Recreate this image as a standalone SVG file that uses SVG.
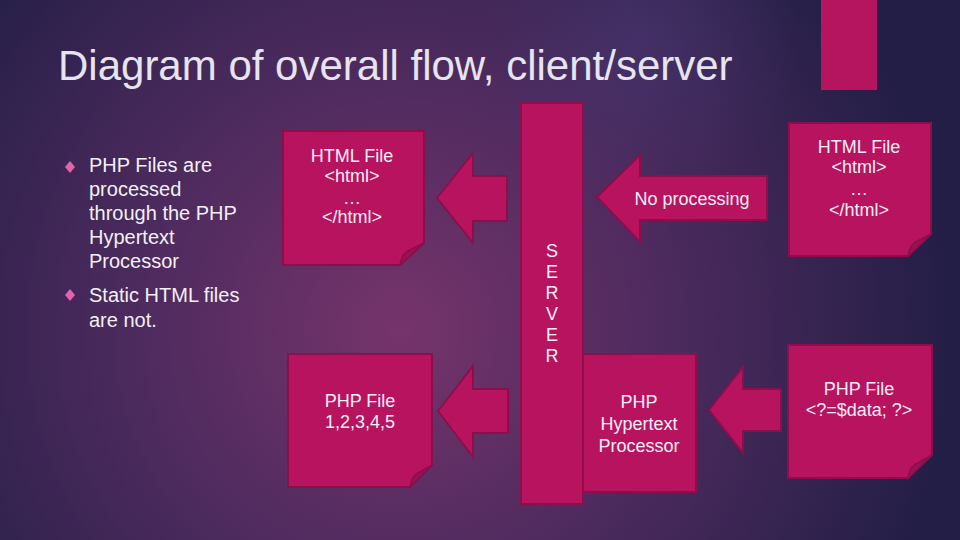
<svg xmlns="http://www.w3.org/2000/svg" width="960" height="540" viewBox="0 0 960 540">
  <defs>
    <radialGradient id="bg" cx="400" cy="330" r="560" gradientUnits="userSpaceOnUse">
      <stop offset="0" stop-color="#76346b"/>
      <stop offset="0.45" stop-color="#4f2b5f"/>
      <stop offset="1" stop-color="#221e45"/>
    </radialGradient>
    <radialGradient id="glow" cx="640" cy="40" r="160" gradientUnits="userSpaceOnUse">
      <stop offset="0" stop-color="#4a3a78" stop-opacity="0.5"/>
      <stop offset="1" stop-color="#4a3a78" stop-opacity="0"/>
    </radialGradient>
  </defs>
  <style>
    .shape { fill: #b8135f; stroke: #8c0e4b; stroke-width: 2; stroke-linejoin: miter; }
    .fold { fill: #9a1253; stroke: #8c0e4b; stroke-width: 1.5; }
    .lbl { font-family: "Liberation Sans", Arial, sans-serif; font-size: 18px; fill: #f6eef6; text-anchor: middle; }
    .bul { font-family: "Liberation Sans", Arial, sans-serif; font-size: 20px; fill: #f2f0f4; }
    .title { font-family: "Liberation Sans", Arial, sans-serif; font-size: 42px; fill: #e6e4ec; }
    .dia { fill: #e462ac; }
  </style>
  <rect x="0" y="0" width="960" height="540" fill="url(#bg)"/>
  <rect x="0" y="0" width="960" height="540" fill="url(#glow)"/>
  <rect x="821" y="0" width="56" height="90" fill="#b5145f"/>

  <text class="title" x="58" y="80">Diagram of overall flow, client/server</text>

  <g id="bullets">
    <path class="dia" d="M70,161 L75,167 L70,173 L65,167 Z"/>
    <text class="bul" x="89" y="172">PHP Files are</text>
    <text class="bul" x="89" y="196">processed</text>
    <text class="bul" x="89" y="220">through the PHP</text>
    <text class="bul" x="89" y="244">Hypertext</text>
    <text class="bul" x="89" y="268">Processor</text>
    <path class="dia" d="M70,289 L75,295 L70,301 L65,295 Z"/>
    <text class="bul" x="89" y="302">Static HTML files</text>
    <text class="bul" x="89" y="327">are not.</text>
  </g>

  <g id="connectors">
    <path class="shape" d="M437,198 L473,153 L473,176 L507,176 L507,221 L473,221 L473,243 Z"/>
    <path class="shape" d="M597,197 L640,155 L640,176 L767,176 L767,220 L640,220 L640,242 Z"/>
    <text class="lbl" x="692" y="205">No processing</text>
    <path class="shape" d="M438,411 L473,366 L473,389 L508,389 L508,433 L473,433 L473,457 Z"/>
    <path class="shape" d="M709,410 L743,367 L743,389 L781,389 L781,431 L743,431 L743,453 Z"/>
  </g>

  <g id="html-client">
    <path class="shape" d="M283,131 H424 V243 L400,265 H283 Z"/>
    <path class="fold" d="M400,265 C402,256 404,252 410,250 L424,243 Z"/>
    <text class="lbl" x="352" y="162">HTML File</text>
    <text class="lbl" x="352" y="182">&lt;html&gt;</text>
    <text class="lbl" x="352" y="204">…</text>
    <text class="lbl" x="352" y="223">&lt;/html&gt;</text>
  </g>

  <g id="html-source">
    <path class="shape" d="M789,123 H931 V234 L908,256 H789 Z"/>
    <path class="fold" d="M908,256 C910,247 912,243 918,241 L931,234 Z"/>
    <text class="lbl" x="859" y="153">HTML File</text>
    <text class="lbl" x="859" y="173">&lt;html&gt;</text>
    <text class="lbl" x="859" y="195">…</text>
    <text class="lbl" x="859" y="216">&lt;/html&gt;</text>
  </g>

  <g id="php-client">
    <path class="shape" d="M288,354 H432 V465 L410,487 H288 Z"/>
    <path class="fold" d="M410,487 C412,478 414,474 420,472 L432,465 Z"/>
    <text class="lbl" x="360" y="407">PHP File</text>
    <text class="lbl" x="360" y="428">1,2,3,4,5</text>
  </g>

  <g id="php-source">
    <path class="shape" d="M788,345 H932 V455 L908,478 H788 Z"/>
    <path class="fold" d="M908,478 C910,469 912,465 918,463 L932,455 Z"/>
    <text class="lbl" x="859" y="395">PHP File</text>
    <text class="lbl" x="859" y="416">&lt;?=$data; ?&gt;</text>
  </g>

  <g id="php-processor">
    <rect class="shape" x="583" y="354" width="113" height="138"/>
    <text class="lbl" x="639" y="408">PHP</text>
    <text class="lbl" x="639" y="430">Hypertext</text>
    <text class="lbl" x="639" y="452">Processor</text>
  </g>

  <g id="server">
    <rect class="shape" x="521" y="103" width="62" height="401"/>
    <text class="lbl" x="552" y="257">S</text>
    <text class="lbl" x="552" y="278">E</text>
    <text class="lbl" x="552" y="299">R</text>
    <text class="lbl" x="552" y="320">V</text>
    <text class="lbl" x="552" y="341">E</text>
    <text class="lbl" x="552" y="362">R</text>
  </g>
</svg>
